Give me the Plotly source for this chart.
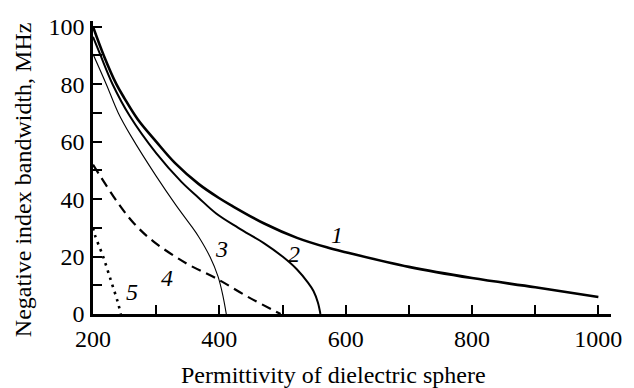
import plotly.graph_objects as go

# Curve data (permittivity, bandwidth MHz)
eps1 = [200, 217, 237, 250, 271, 300, 330, 367, 400, 419, 471, 523, 570, 600, 700, 800, 900, 1000]
bw1 = [100, 90, 80, 75, 67.7, 60, 52.5, 45.3, 40.3, 37.8, 31.5, 26.5, 23.2, 21.5, 16.4, 12.5, 9.3, 5.9]

eps2 = [200, 212, 231, 258, 300, 340, 367, 395, 430, 471, 500, 523, 540, 549, 556, 560]
bw2 = [96.5, 90, 80, 69, 56, 46, 40.5, 35, 30, 24.6, 20, 15.5, 11, 8, 4, 0]

eps3 = [200, 221, 240, 260, 300, 331, 356, 367, 385, 398, 406, 411]
bw3 = [90.5, 80, 70, 62, 48, 38, 30.5, 27, 20, 13, 6, 0]

eps4 = [200, 240, 265, 296, 348, 395, 445, 497]
bw4 = [52, 38.5, 31.5, 25.2, 17.6, 12.4, 6, 0]

eps5 = [200, 203, 216, 229, 239, 244]
bw5 = [30, 27.5, 20, 11.2, 4.3, 0]

labels = ["1", "2", "3", "4", "5"]
label_x = [586, 518, 403, 317, 262]
label_y = [27.5, 21, 22.6, 12.4, 7.8]

x_ticks = [200, 300, 400, 500, 600, 700, 800, 900, 1000]
x_ticktext = ["200", "", "400", "", "600", "", "800", "", "1000"]
y_ticks = [0, 10, 20, 30, 40, 50, 60, 70, 80, 90, 100]
y_ticktext = ["0", "", "20", "", "40", "", "60", "", "80", "", "100"]

FONT = "Liberation Serif"
TF = dict(family=FONT, size=24, color="black")

fig = go.Figure()
styles = [
    (eps1, bw1, dict(color="black", width=2.6)),
    (eps2, bw2, dict(color="black", width=2.0)),
    (eps3, bw3, dict(color="black", width=1.1)),
    (eps4, bw4, dict(color="black", width=2.2, dash="10px,6px")),
    (eps5, bw5, dict(color="black", width=2.6, dash="2.5px,5px")),
]
for xs, ys, ln in styles:
    fig.add_trace(go.Scatter(x=xs, y=ys, mode="lines", line=dict(shape="spline", smoothing=1.0, **ln),
                             showlegend=False, hoverinfo="skip"))

for t, x, y in zip(labels, label_x, label_y):
    fig.add_annotation(x=x, y=y, text=f"<i>{t}</i>", showarrow=False, font=TF)

fig.add_annotation(xref="paper", yref="paper", x=0.465, y=-0.208, text="Permittivity of dielectric sphere",
                   showarrow=False, font=TF, yanchor="middle")
fig.add_annotation(xref="paper", yref="paper", x=-0.135, y=0.457, text="Negative index bandwidth, MHz",
                   showarrow=False, textangle=-90, font=TF, xanchor="center", yanchor="middle")

fig.update_layout(
    width=634, height=388,
    margin=dict(l=93, r=16, t=21, b=74),
    plot_bgcolor="white", paper_bgcolor="white",
    font=TF,
)
fig.update_xaxes(range=[200, 1020], tickmode="array", tickvals=x_ticks, ticktext=x_ticktext,
                 ticks="inside", ticklen=9, tickwidth=2, tickcolor="black", ticklabelstandoff=1,
                 showline=True, linecolor="black", linewidth=2.5,
                 showgrid=False, zeroline=False, tickfont=TF)
fig.update_yaxes(range=[0, 102], tickmode="array", tickvals=y_ticks, ticktext=y_ticktext,
                 ticks="inside", ticklen=9, tickwidth=2, tickcolor="black", ticklabelstandoff=1,
                 showline=True, linecolor="black", linewidth=2.5,
                 showgrid=False, zeroline=False, tickfont=TF)

fig.write_html("out.html")
